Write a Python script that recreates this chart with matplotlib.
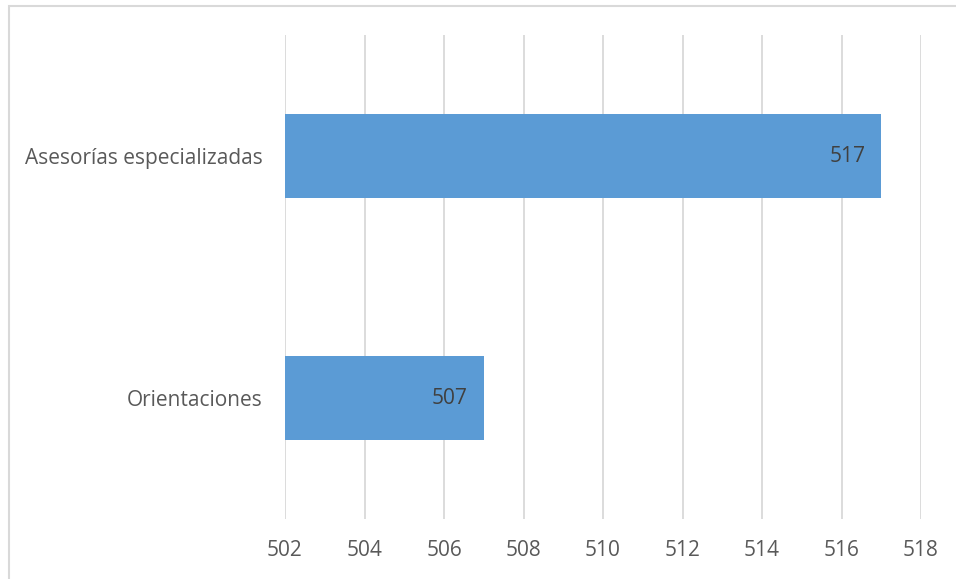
import matplotlib.pyplot as plt
from matplotlib.patches import Rectangle

categories = ['Orientaciones', 'Asesorías especializadas']
values = [507, 517]
xticks = [502, 504, 506, 508, 510, 512, 514, 516, 518]

plt.rcParams['font.family'] = ['Open Sans', 'DejaVu Sans']
grey = '#595959'

fig = plt.figure(figsize=(9.56, 5.79), dpi=100)
ax = fig.add_axes([285 / 956, 1 - 519 / 579, 636 / 956, 484 / 579])

# outer chart frame (runs off the right and bottom edges)
fig.patches.append(Rectangle((8.5 / 956, -0.1), 1.2, 1 - 5.5 / 579 + 0.1,
                             transform=fig.transFigure, fill=False,
                             edgecolor='#D9D9D9', lw=1.5))

base = xticks[0]
ypos = range(len(categories))
bars = ax.barh(ypos, [v - base for v in values], left=base, height=0.35,
               color='#5B9BD5', zorder=3)
for b, v in zip(bars, values):
    ax.text(v - 0.4, b.get_y() + b.get_height() / 2, str(v),
            ha='right', va='center', fontsize=15, color='#404040', zorder=4)

ax.set_xlim(xticks[0], xticks[-1])
ax.set_ylim(-0.5, 1.5)
ax.set_xticks(xticks)
ax.set_yticks(list(ypos))
ax.set_yticklabels(categories)
ax.xaxis.grid(True, color='#D9D9D9', lw=1.3, zorder=0)
ax.set_axisbelow(True)
for s in ax.spines.values():
    s.set_visible(False)
ax.tick_params(axis='both', length=0, labelsize=15, labelcolor=grey)
ax.tick_params(axis='x', pad=15)
ax.tick_params(axis='y', pad=16)

fig.savefig('out.png', dpi=100)
